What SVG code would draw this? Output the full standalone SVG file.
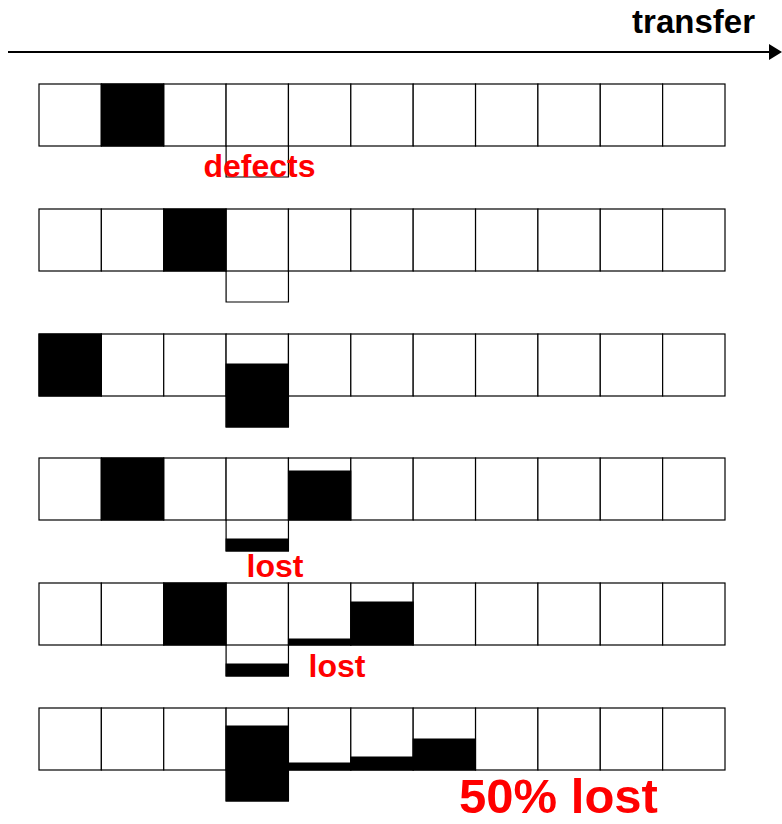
<svg xmlns="http://www.w3.org/2000/svg" width="782" height="824" viewBox="0 0 782 824">
<style>
.c{fill:#fff;stroke:#000;stroke-width:1.2}
.w{fill:none;stroke:#000;stroke-width:1.2}
.b{fill:#000;stroke:#000;stroke-width:1}
.lbl{font-family:"Liberation Sans",Arial,sans-serif;font-weight:bold}
.red{fill:#ff0000}
</style>
<defs>
<g id="row">
<rect class="c" x="39" y="0" width="62.36" height="62"/>
<rect class="c" x="101.36" y="0" width="62.36" height="62"/>
<rect class="c" x="163.73" y="0" width="62.36" height="62"/>
<rect class="c" x="226.09" y="0" width="62.36" height="62"/>
<rect class="c" x="288.45" y="0" width="62.36" height="62"/>
<rect class="c" x="350.82" y="0" width="62.36" height="62"/>
<rect class="c" x="413.18" y="0" width="62.36" height="62"/>
<rect class="c" x="475.55" y="0" width="62.36" height="62"/>
<rect class="c" x="537.91" y="0" width="62.36" height="62"/>
<rect class="c" x="600.27" y="0" width="62.36" height="62"/>
<rect class="c" x="662.64" y="0" width="62.36" height="62"/>
<path class="w" d="M226.09 62V93H288.45V62"/>
</g>
<marker id="ah" viewBox="0 0 13 16" refX="0" refY="8" markerWidth="13" markerHeight="16" markerUnits="userSpaceOnUse" orient="auto">
<path d="M0 0L13 8L0 16Z" fill="#000"/>
</marker>
</defs>
<g id="connectors">
<line x1="8" y1="52" x2="769" y2="52" stroke="#000" stroke-width="2" marker-end="url(#ah)"/>
</g>
<g id="transfer-label"><text class="lbl" x="755" y="33" font-size="33" text-anchor="end">transfer</text></g>
<g id="row1" transform="translate(0,84)">
<use href="#row"/>
<rect class="b" x="101.36" y="0" width="62.36" height="62"/>
</g>
<g id="row2" transform="translate(0,209)">
<use href="#row"/>
<rect class="b" x="163.73" y="0" width="62.36" height="62"/>
</g>
<g id="row3" transform="translate(0,334)">
<use href="#row"/>
<rect class="b" x="39" y="0" width="62.36" height="62"/>
<rect class="b" x="226.09" y="30" width="62.36" height="63"/>
</g>
<g id="row4" transform="translate(0,458)">
<use href="#row"/>
<rect class="b" x="101.36" y="0" width="62.36" height="62"/>
<rect class="b" x="288.45" y="13" width="62.36" height="49"/>
<rect class="b" x="226.09" y="81" width="62.36" height="12"/>
</g>
<g id="row5" transform="translate(0,583)">
<use href="#row"/>
<rect class="b" x="163.73" y="0" width="62.36" height="62"/>
<rect class="b" x="288.45" y="56" width="62.36" height="6"/>
<rect class="b" x="350.82" y="19" width="62.36" height="43"/>
<rect class="b" x="226.09" y="81" width="62.36" height="12"/>
</g>
<g id="row6" transform="translate(0,708)">
<use href="#row"/>
<rect class="b" x="226.09" y="18" width="62.36" height="75"/>
<rect class="b" x="288.45" y="55" width="62.36" height="7"/>
<rect class="b" x="350.82" y="49" width="62.36" height="13"/>
<rect class="b" x="413.18" y="31" width="62.36" height="31"/>
</g>
<g id="labels">
<text class="lbl red" x="259.5" y="177" font-size="32" text-anchor="middle">defects</text>
<text class="lbl red" x="275" y="577" font-size="32" text-anchor="middle">lost</text>
<text class="lbl red" x="337" y="677" font-size="32" text-anchor="middle">lost</text>
<text class="lbl red" x="558.5" y="813" font-size="49" text-anchor="middle">50% lost</text>
</g>
</svg>
